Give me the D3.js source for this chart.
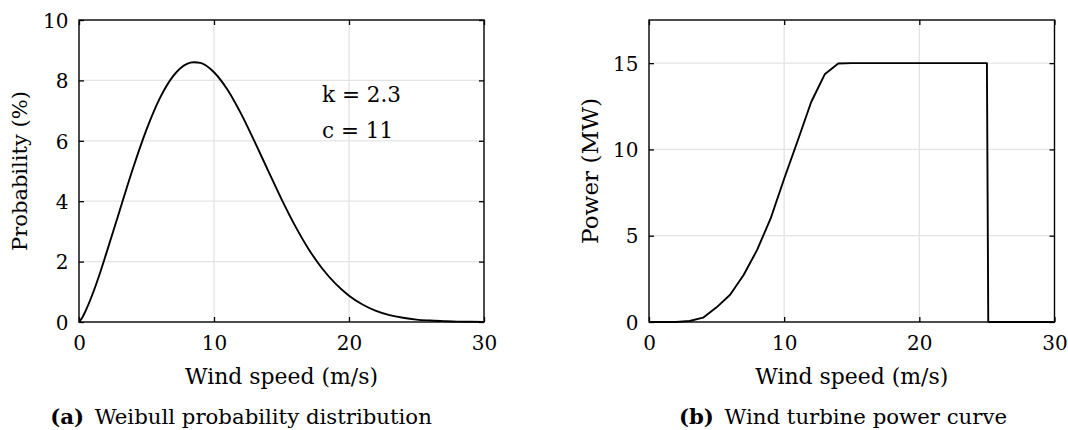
<!DOCTYPE html>
<html>
<head>
<meta charset="utf-8">
<script src="https://cdn.jsdelivr.net/npm/d3@7"></script>
<style>
  html, body { margin: 0; padding: 0; background: #fff; }
  svg text { font-family: "DejaVu Serif", "Liberation Serif", serif; fill: #000; }
</style>
</head>
<body>
<svg id="chart" width="1068" height="430"></svg>
<script>
// ---- Data ----
const weibullSpeed = [0, 0.25, 0.5, 1, 1.5, 2, 3, 4, 5, 6, 7, 8, 8.5, 9, 10, 11, 12, 13, 14, 15, 16, 17, 18, 19, 20, 21, 22, 23, 24, 25, 26, 27, 28, 29, 30];
const weibullProb  = [0, 0.15, 0.38, 0.92, 1.55, 2.24, 3.67, 5.09, 6.37, 7.42, 8.16, 8.55, 8.60, 8.58, 8.27, 7.69, 6.90, 5.98, 5.02, 4.07, 3.19, 2.42, 1.78, 1.27, 0.87, 0.58, 0.37, 0.23, 0.14, 0.08, 0.05, 0.03, 0.013, 0.007, 0.003];

const powerSpeed = [0, 1, 2, 3, 4, 5, 6, 7, 8, 9, 10, 11, 12, 13, 14, 15, 16, 17, 18, 19, 20, 21, 22, 23, 24, 25, 25.1, 30];
const powerMW    = [0, 0, 0, 0.06, 0.25, 0.85, 1.58, 2.72, 4.18, 6.0, 8.3, 10.5, 12.75, 14.35, 14.98, 15, 15, 15, 15, 15, 15, 15, 15, 15, 15, 15, 0, 0];

const xTicks = [0, 10, 20, 30];
const yTicksA = [0, 2, 4, 6, 8, 10];
const yTicksB = [0, 5, 10, 15];

const xLabel = "Wind speed (m/s)";
const yLabelA = "Probability (%)";
const yLabelB = "Power (MW)";
const annotations = ["k = 2.3", "c = 11"];
const captionsBold = ["(a)", "(b)"];
const captions = ["Weibull probability distribution", "Wind turbine power curve"];

// ---- Drawing ----
const svg = d3.select("#chart");
const FONT = '"DejaVu Serif", "Liberation Serif", serif';
const FS = 20;

// font size that makes the natural text width match a target width
function fitSize(sel, target, base) {
  sel.style("font-size", base + "px");
  const w = sel.node().getComputedTextLength();
  return base * target / w;
}

function panel(opts) {
  const { left, right, top, bottom, xDomain, yDomain, yTicks, gridY, xs, ys, curve, yLabel, yLabelX } = opts;
  const x = d3.scaleLinear().domain(xDomain).range([left, right]);
  const y = d3.scaleLinear().domain(yDomain).range([bottom, top]);
  const g = svg.append("g");

  // grid
  g.selectAll(".gx").data(xTicks.filter(t => t > xDomain[0] && t < xDomain[1])).enter()
    .append("line").attr("x1", d => x(d)).attr("x2", d => x(d)).attr("y1", top).attr("y2", bottom)
    .attr("stroke", "#e3e3e3").attr("stroke-width", 1.3);
  g.selectAll(".gy").data(gridY).enter()
    .append("line").attr("y1", d => y(d)).attr("y2", d => y(d)).attr("x1", left).attr("x2", right)
    .attr("stroke", "#e3e3e3").attr("stroke-width", 1.3);

  // axes with inward ticks on all sides
  const tick = 5;
  const ax = g.append("g").attr("transform", `translate(0,${bottom})`)
    .call(d3.axisBottom(x).tickValues(xTicks).tickSize(-tick).tickFormat(d3.format("d")));
  const axT = g.append("g").attr("transform", `translate(0,${top})`)
    .call(d3.axisTop(x).tickValues(xTicks).tickSize(-tick).tickFormat(""));
  const ay = g.append("g").attr("transform", `translate(${left},0)`)
    .call(d3.axisLeft(y).tickValues(yTicks).tickSize(-tick).tickFormat(d3.format("d")));
  const ayR = g.append("g").attr("transform", `translate(${right},0)`)
    .call(d3.axisRight(y).tickValues(yTicks).tickSize(-tick).tickFormat(""));
  [ax, axT, ay, ayR].forEach(a => {
    a.select(".domain").remove();
    a.selectAll(".tick line").attr("stroke", "#000").attr("stroke-width", 1.3);
  });
  ax.selectAll(".tick text").attr("y", 27.5).attr("dy", null)
    .style("font-size", FS + "px").style("font-family", FONT).attr("fill", "#000");
  ay.selectAll(".tick text").attr("x", -10.5).attr("dy", "0.36em")
    .style("font-size", FS + "px").style("font-family", FONT).attr("fill", "#000");

  // curve
  const line = d3.line().x(d => x(d[0])).y(d => y(d[1])).curve(curve);
  g.append("path").datum(xs.map((v, i) => [v, ys[i]]))
    .attr("d", line).attr("fill", "none").attr("stroke", "#000").attr("stroke-width", 1.9)
    .attr("stroke-linejoin", "round");

  // frame
  g.append("rect").attr("x", left).attr("y", top).attr("width", right - left).attr("height", bottom - top)
    .attr("fill", "none").attr("stroke", "#000").attr("stroke-width", 1.4);

  // x label
  const xl = g.append("text").attr("x", (left + right) / 2).attr("y", 384).attr("text-anchor", "middle").text(xLabel);
  xl.style("font-size", fitSize(xl, 193, 20) + "px");
  // y label
  const yl = g.append("text").attr("transform", `translate(${yLabelX},${(top + bottom) / 2}) rotate(-90)`)
    .attr("text-anchor", "middle").text(yLabel);
  yl.style("font-size", fitSize(yl, opts.yLabelWidth, 20) + "px");
  return { x, y, g };
}

const A = panel({
  left: 79, right: 484, top: 20, bottom: 322,
  xDomain: [0, 30], yDomain: [0, 10], yTicks: yTicksA, gridY: [2, 4, 6, 8],
  xs: weibullSpeed, ys: weibullProb, curve: d3.curveMonotoneX,
  yLabel: yLabelA, yLabelX: 27, yLabelWidth: 160
});
const ann = A.g.selectAll(".ann").data(annotations).enter().append("text")
  .attr("class", "ann")
  .attr("x", A.x(18)).attr("y", (d, i) => [101.7, 137.7][i]).text(d => d);
ann.style("font-size", fitSize(d3.select(ann.nodes()[0]), 79, 20) + "px");

panel({
  left: 649, right: 1054.5, top: 20, bottom: 322,
  xDomain: [0, 30], yDomain: [0, 17.5], yTicks: yTicksB, gridY: [5, 10, 15],
  xs: powerSpeed, ys: powerMW, curve: d3.curveLinear,
  yLabel: yLabelB, yLabelX: 598, yLabelWidth: 146
});

// captions: same font size for both, fitted on average to the reference widths
const capCenters = [241, 843];
const capWidths = [352, 354];
const caps = captions.map((c, i) => {
  const t = svg.append("text").attr("x", capCenters[i]).attr("y", 424).attr("text-anchor", "middle");
  t.append("tspan").attr("font-weight", "bold").text(captionsBold[i]);
  t.append("tspan").text("\u2002" + c);
  return t;
});
const capFs = d3.mean(caps.map((t, i) => fitSize(t, capWidths[i], 20)));
caps.forEach(t => t.style("font-size", capFs + "px"));
</script>
</body>
</html>
